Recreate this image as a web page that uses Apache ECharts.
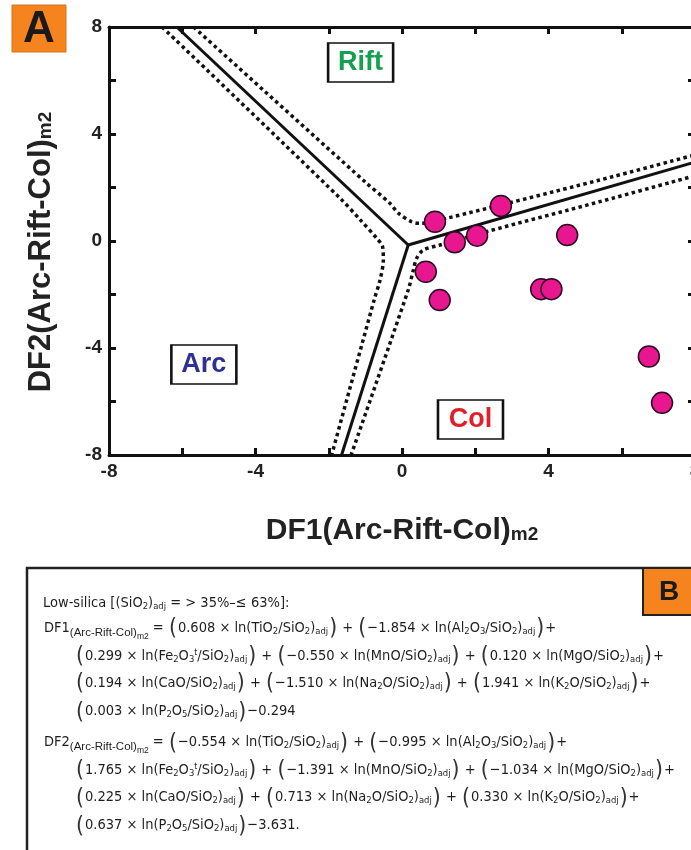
<!DOCTYPE html>
<html><head><meta charset="utf-8">
<script src="https://cdn.jsdelivr.net/npm/echarts@6/dist/echarts.min.js"></script>
<style>html,body{margin:0;padding:0;background:#fff}#c{width:691px;height:850px}</style>
</head><body><div id="c"></div>
<script>
// ---- data ----
const df1 = [0.90, 2.70, 1.44, 2.05, 4.51, 0.65, 1.03, 3.80, 4.08, 6.74, 7.10];
const df2 = [0.72, 1.31, -0.05, 0.20, 0.22, -1.15, -2.21, -1.80, -1.80, -4.32, -6.05];
const xTickLabels = ['-8', '-4', '0', '4', '8'];
const yTickLabels = ['-8', '-4', '0', '4', '8'];
// field boundaries (solid) and their uncertainty bands (dotted)
const solidA = [[-6.15, 8], [0.17, -0.15]];
const solidB = [[0.17, -0.15], [8, 2.95]];
const solidC = [[0.17, -0.15], [-1.65, -8]];
const dotRift = [[-5.69, 8], [-1.0, 2.2], [-0.33, 1.41], [-0.10, 1.04], [0.26, 0.72], [0.49, 0.66], [1.22, 0.85], [5.40, 2.28], [8, 3.22]];
const dotArc = [[-6.55, 8], [-1.69, 1.6], [-1.14, 0.79], [-0.69, 0.10], [-0.53, -0.21], [-0.51, -0.71], [-0.60, -1.46], [-0.76, -2.2], [-1.92, -8]];
const dotCol = [[8, 2.44], [5.40, 1.47], [2.31, 0.35], [1.04, -0.15], [0.58, -0.34], [0.40, -0.65], [0.31, -1.08], [0.17, -1.83], [-1.39, -8]];
const regionNames = ['Rift', 'Arc', 'Col'];
const regionX = [-1.13, -5.41, 1.87];
const regionY = [6.67, -4.62, -6.67];
const regionColors = ['#14a04e', '#2e3192', '#e01f26'];
const formulaLines = [
  'Low-silica [(SiO_{2})_{adj} = > 35%–≤ 63%]:',
  'DF1!{(Arc-Rift-Col)}~{m2} = «0.608 × ln(TiO_{2}/SiO_{2})_{adj}» + «−1.854 × ln(Al_{2}O_{3}/SiO_{2})_{adj}»+',
  '«0.299 × ln(Fe_{2}O_{3}^{t}/SiO_{2})_{adj}» + «−0.550 × ln(MnO/SiO_{2})_{adj}» + «0.120 × ln(MgO/SiO_{2})_{adj}»+',
  '«0.194 × ln(CaO/SiO_{2})_{adj}» + «−1.510 × ln(Na_{2}O/SiO_{2})_{adj}» + «1.941 × ln(K_{2}O/SiO_{2})_{adj}»+',
  '«0.003 × ln(P_{2}O_{5}/SiO_{2})_{adj}»−0.294',
  'DF2!{(Arc-Rift-Col)}~{m2} = «−0.554 × ln(TiO_{2}/SiO_{2})_{adj}» + «−0.995 × ln(Al_{2}O_{3}/SiO_{2})_{adj}»+',
  '«1.765 × ln(Fe_{2}O_{3}^{t}/SiO_{2})_{adj}» + «−1.391 × ln(MnO/SiO_{2})_{adj}» + «−1.034 × ln(MgO/SiO_{2})_{adj}»+',
  '«0.225 × ln(CaO/SiO_{2})_{adj}» + «0.713 × ln(Na_{2}O/SiO_{2})_{adj}» + «0.330 × ln(K_{2}O/SiO_{2})_{adj}»+',
  '«0.637 × ln(P_{2}O_{5}/SiO_{2})_{adj}»−3.631.'
];
const formulaX = [43, 44, 75, 75, 75, 44, 75, 75, 75];
const formulaY = [603, 628, 656, 683, 711.5, 742.5, 770, 797.5, 825.5];

// ---- fonts ----
function hasFont(name) {
  const c = document.createElement('canvas').getContext('2d');
  const s = 'abcdefghijklmnopqrstuvwxyz0123456789ABCDEF';
  c.font = '40px monospace'; const w0 = c.measureText(s).width;
  c.font = '40px "' + name + '", monospace'; const w1 = c.measureText(s).width;
  return Math.abs(w1 - w0) > 0.5;
}
const NARROW = hasFont('Liberation Sans Narrow') ? 'Liberation Sans Narrow' : (hasFont('DejaVu Sans Condensed') ? 'DejaVu Sans Condensed' : 'Liberation Sans');
const FS = NARROW === 'Liberation Sans Narrow' ? 17.5 : 14.5;
const SANS = 'Liberation Sans';
const TXT = '#1e1e1e';

function richLine(src) {
  return src.split(/(_\{[^}]*\}|\^\{[^}]*\}|~\{[^}]*\}|!\{[^}]*\}|«|»)/).filter(s => s !== '').map(p => {
    if (p === '«') return '{p|(}';
    if (p === '»') return '{p|)}';
    const k = p.slice(0, 2);
    if (k === '_{') return '{s|' + p.slice(2, -1) + '}';
    if (k === '^{') return '{u|' + p.slice(2, -1) + '}';
    if (k === '~{') return '{ss|' + p.slice(2, -1) + '}';
    if (k === '!{') return '{sd|' + p.slice(2, -1) + '}';
    return '{n|' + p + '}';
  }).join('');
}
const fr = FS / 18.5;
const formulaRich = {
  n: { fontSize: FS, fontFamily: NARROW, fill: TXT },
  s: { fontSize: 12 * fr, fontFamily: NARROW, fill: TXT, padding: [8 * fr, 0, 0, 0] },
  u: { fontSize: 11 * fr, fontFamily: NARROW, fill: TXT, padding: [0, 0, 9 * fr, 0] },
  sd: { fontSize: 11.5, fontFamily: SANS, fill: TXT, padding: [9, 0, 0, 0] },
  ss: { fontSize: 8.5, fontFamily: SANS, fill: TXT, padding: [17, 0, 0, 0] },
  p: { fontSize: 29 * fr, fontFamily: NARROW, fill: '#333', padding: [3, 1, 0, 1] }
};

const graphics = [
  { type: 'rect', shape: { x: 12, y: 5, width: 54, height: 47 }, style: { fill: '#f5841f', stroke: '#d9731a', lineWidth: 1 }, z: 10 },
  { type: 'text', x: 39, y: 30, style: { text: 'A', font: 'bold 44px "' + SANS + '"', fill: '#1a1a1a', align: 'center', verticalAlign: 'middle' }, z: 11 },
  { type: 'rect', shape: { x: 27, y: 568, width: 720, height: 400 }, style: { fill: 'none', stroke: '#222', lineWidth: 2.5 }, z: 10 },
  { type: 'rect', shape: { x: 643, y: 568, width: 60, height: 47 }, style: { fill: '#f5841f', stroke: '#222', lineWidth: 2 }, z: 11 },
  { type: 'text', x: 669, y: 592, style: { text: 'B', font: 'bold 28px "' + SANS + '"', fill: '#1a1a1a', align: 'center', verticalAlign: 'middle' }, z: 12 }
];
formulaLines.forEach((t, i) => {
  graphics.push({ type: 'text', x: formulaX[i], y: formulaY[i], z: 12,
    style: { text: richLine(t), rich: formulaRich, align: 'left', verticalAlign: 'middle', fill: TXT, font: FS + 'px "' + NARROW + '"' } });
});

const axisLineStyle = { color: '#111', width: 3 };
const tickStyle = { show: true, inside: true, length: 7, lineStyle: { color: '#111', width: 3 } };
const labelStyle = { fontSize: 19, fontWeight: 'bold', color: '#222', fontFamily: SANS, margin: 7 };
function nameRich(size) {
  return {
    a: { fontSize: size, fontWeight: 'bold', fontFamily: SANS, color: '#222' },
    b: { fontSize: 19, fontWeight: 'bold', fontFamily: SANS, color: '#222', padding: [8, 0, 0, 0] }
  };
}

function lineSeries(data, dotted) {
  return { type: 'line', data: data, symbol: 'none', silent: true, z: 3, animation: false, smooth: dotted ? 0.3 : false,
    lineStyle: dotted ? { color: '#111', width: 3.5, type: [3.5, 3.4], cap: 'butt' } : { color: '#111', width: 3 } };
}

const chart = echarts.init(document.getElementById('c'), null, { renderer: 'canvas' });
chart.setOption({
  animation: false,
  backgroundColor: '#fff',
  grid: { left: 109, right: -4, top: 27, bottom: 395, containLabel: false, outerBoundsMode: 'none' },
  xAxis: [
    { type: 'value', min: -8, max: 8, interval: 2, position: 'bottom',
      axisLine: { show: true, onZero: false, lineStyle: axisLineStyle }, axisTick: tickStyle,
      axisLabel: Object.assign({ formatter: v => xTickLabels.includes(String(v)) ? String(v) : '', showMinLabel: true, showMaxLabel: true }, labelStyle),
      splitLine: { show: false },
      name: '{a|DF1(Arc-Rift-Col)}{b|m2}', nameLocation: 'middle', nameGap: 61, nameTextStyle: { rich: nameRich(30) } },
    { type: 'value', min: -8, max: 8, interval: 2, position: 'top',
      axisLine: { show: true, onZero: false, lineStyle: axisLineStyle }, axisTick: tickStyle,
      axisLabel: { show: false }, splitLine: { show: false } }
  ],
  yAxis: [
    { type: 'value', min: -8, max: 8, interval: 2, position: 'left',
      axisLine: { show: true, onZero: false, lineStyle: axisLineStyle }, axisTick: tickStyle,
      axisLabel: Object.assign({ formatter: v => yTickLabels.includes(String(v)) ? String(v) : '', showMinLabel: true, showMaxLabel: true }, labelStyle),
      splitLine: { show: false },
      name: '{a|DF2(Arc-Rift-Col)}{b|m2}', nameLocation: 'middle', nameGap: 52, nameRotate: 90,
      nameTextStyle: { rich: nameRich(31), padding: [0, 22, 0, 0] } },
    { type: 'value', min: -8, max: 8, interval: 2, position: 'right',
      axisLine: { show: true, onZero: false, lineStyle: axisLineStyle }, axisTick: tickStyle,
      axisLabel: { show: false }, splitLine: { show: false } }
  ],
  series: [
    lineSeries(solidA, false), lineSeries(solidB, false), lineSeries(solidC, false),
    lineSeries(dotRift, true), lineSeries(dotArc, true), lineSeries(dotCol, true),
    { type: 'scatter', name: 'samples', data: df1.map((x, i) => [x, df2[i]]), symbol: 'circle', symbolSize: 21, z: 6,
      itemStyle: { color: '#e8168f', borderColor: '#2b0b22', borderWidth: 1.5, opacity: 1 } },
    { type: 'scatter', name: 'fields', z: 7, symbol: 'rect', symbolSize: [65, 39], silent: true,
      data: regionNames.map((n, i) => ({ name: n, value: [regionX[i], regionY[i]],
        label: { color: regionColors[i] } })),
      itemStyle: { color: '#fff', borderColor: '#111', borderWidth: 2, opacity: 1 },
      label: { show: true, position: 'inside', formatter: p => p.name, fontSize: 27, fontWeight: 'bold', fontFamily: SANS } }
  ],
  graphic: graphics
});
</script></body></html>
